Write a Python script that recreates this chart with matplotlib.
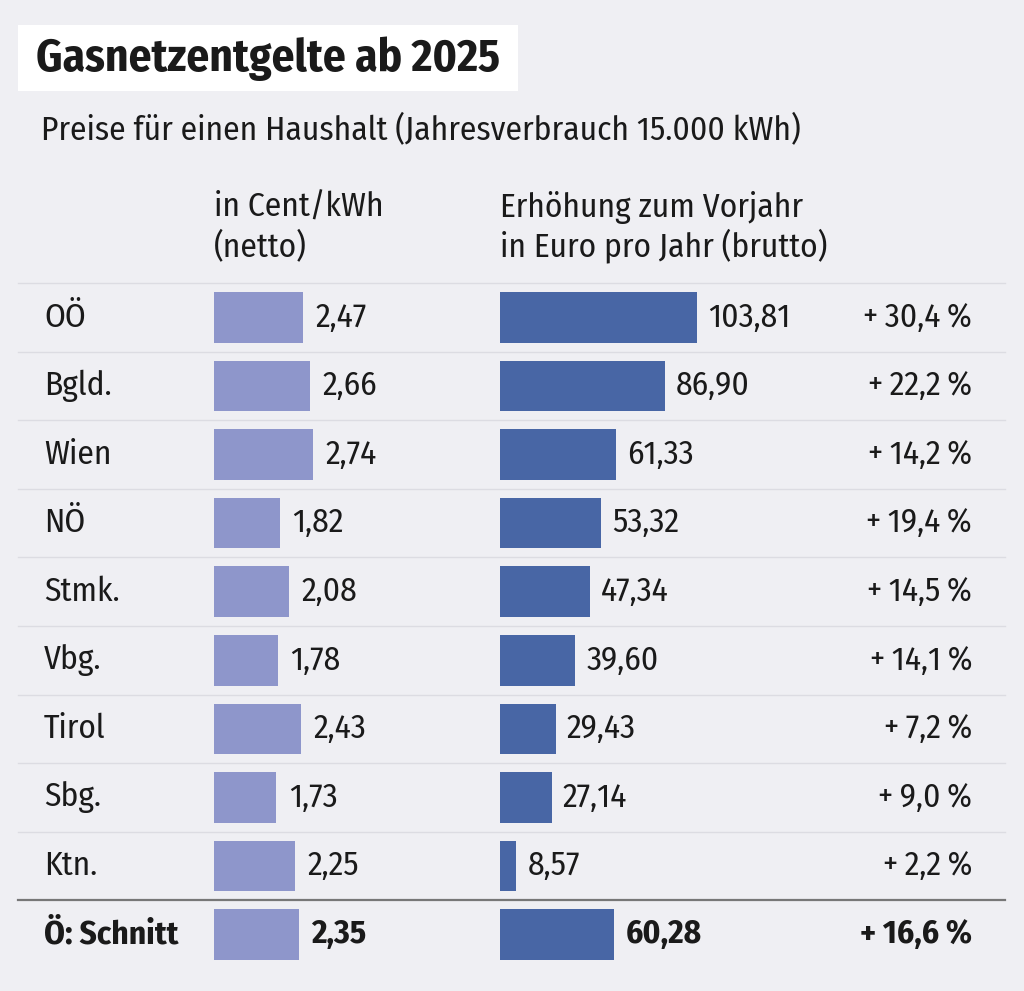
import matplotlib.pyplot as plt
from matplotlib.patches import Rectangle

# data
regions = ['OÖ', 'Bgld.', 'Wien', 'NÖ', 'Stmk.', 'Vbg.', 'Tirol', 'Sbg.', 'Ktn.', 'Ö: Schnitt']
cent_kwh = [2.47, 2.66, 2.74, 1.82, 2.08, 1.78, 2.43, 1.73, 2.25, 2.35]
euro_year = [103.81, 86.90, 61.33, 53.32, 47.34, 39.60, 29.43, 27.14, 8.57, 60.28]
pct = [30.4, 22.2, 14.2, 19.4, 14.5, 14.1, 7.2, 9.0, 2.2, 16.6]

plt.rcParams['font.family'] = ['Fira Sans Condensed', 'DejaVu Sans']

bg = '#efeff3'
c_light = '#8e96cb'
c_dark = '#4866a5'
txt = '#1a1a1a'
W, H = 1024, 991
fs = 24

fig = plt.figure(figsize=(W / 100, H / 100), dpi=100, facecolor=bg)

# full-figure axes in pixel units for text and rules
base = fig.add_axes([0, 0, 1, 1])
base.set_xlim(0, W)
base.set_ylim(H, 0)
base.axis('off')

base.add_patch(Rectangle((18, 25), 500, 66, facecolor='white', edgecolor='none'))
base.text(36, 59, 'Gasnetzentgelte ab 2025', fontsize=32.5, fontweight='bold',
          color=txt, va='center', ha='left')
base.text(41, 129, 'Preise für einen Haushalt (Jahresverbrauch 15.000 kWh)',
          fontsize=fs, color=txt, va='center', ha='left')

base.text(214, 207, 'in Cent/kWh', fontsize=fs, color=txt, va='center')
base.text(214, 246, '(netto)', fontsize=fs, color=txt, va='center')
base.text(500, 207, 'Erhöhung zum Vorjahr', fontsize=fs, color=txt, va='center')
base.text(500, 246, 'in Euro pro Jahr (brutto)', fontsize=fs, color=txt, va='center')

row_top = 283
row_h = 68.6
n = len(regions)

# separators
for i in range(n):
    y = row_top + i * row_h
    if i == n - 1:
        base.plot([18, 1005], [y, y], color='#777777', lw=1.6)
    else:
        base.plot([18, 1005], [y, y], color='#dcdce2', lw=1.0)

# bar axes spanning the rows
ax_y0 = H - (row_top + n * row_h)
ax_h = n * row_h


def bar_axes(left_px, width_px, xmax):
    ax = fig.add_axes([left_px / W, ax_y0 / H, width_px / W, ax_h / H])
    ax.set_xlim(0, xmax)
    ax.set_ylim(n - 0.5, -0.5)
    ax.axis('off')
    ax.patch.set_alpha(0)
    return ax


ax1 = bar_axes(214, 108, 3.0)
ax2 = bar_axes(500, 212, 111.7)

ypos = list(range(n))
ax1.barh(ypos, cent_kwh, height=0.74, color=c_light)
ax2.barh(ypos, euro_year, height=0.74, color=c_dark)

for i, (name, a, b, p) in enumerate(zip(regions, cent_kwh, euro_year, pct)):
    w = 'bold' if i == n - 1 else 'normal'
    yc = i
    ax1.annotate(f'{a:.2f}'.replace('.', ','), (a, yc), xytext=(9, 0),
                 textcoords='offset points', va='center', ha='left',
                 fontsize=fs, color=txt, fontweight=w, annotation_clip=False)
    ax2.annotate(f'{b:.2f}'.replace('.', ','), (b, yc), xytext=(8, 0),
                 textcoords='offset points', va='center', ha='left',
                 fontsize=fs, color=txt, fontweight=w, annotation_clip=False)
    yp = row_top + (i + 0.5) * row_h
    base.text(44, yp, name, fontsize=fs, color=txt, va='center', ha='left',
              fontweight=w)
    base.text(972, yp, '+\u2009' + f'{p:.1f}'.replace('.', ',') + '\u2009%',
              fontsize=fs, color=txt, va='center', ha='right', fontweight=w)

fig.savefig('out.png', dpi=100, facecolor=bg)
